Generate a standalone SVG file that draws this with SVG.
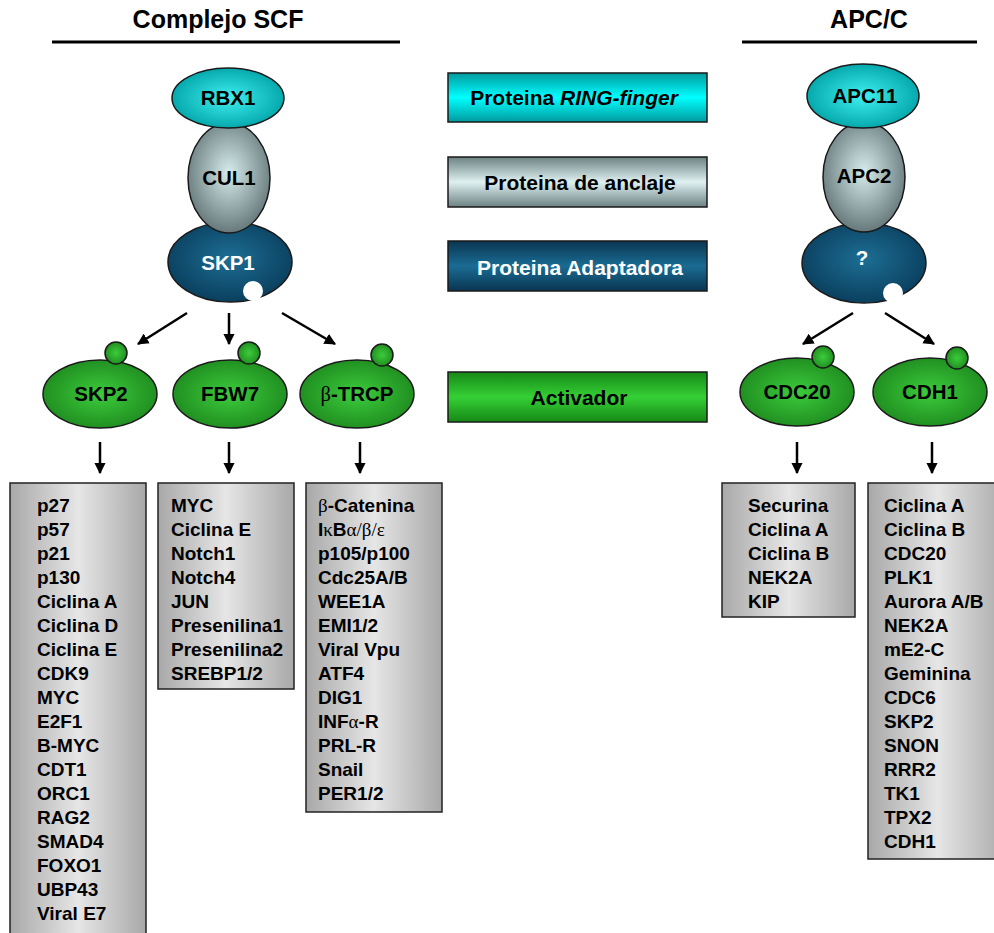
<svg xmlns="http://www.w3.org/2000/svg" width="994" height="933" viewBox="0 0 994 933">
<defs>
<radialGradient id="gCyan" cx="50%" cy="50%" r="55%"><stop offset="0" stop-color="#3ff0f0"/><stop offset="1" stop-color="#00a2a6"/></radialGradient>
<radialGradient id="gGray" cx="50%" cy="45%" r="55%"><stop offset="0" stop-color="#d6ecec"/><stop offset="1" stop-color="#67797b"/></radialGradient>
<radialGradient id="gBlue" cx="50%" cy="45%" r="55%"><stop offset="0" stop-color="#1d6e94"/><stop offset="1" stop-color="#0a3f5e"/></radialGradient>
<radialGradient id="gGreen" cx="50%" cy="50%" r="55%"><stop offset="0" stop-color="#3ccc3c"/><stop offset="1" stop-color="#1e8a1e"/></radialGradient>
<linearGradient id="lCyan" x1="0" y1="0" x2="0" y2="1"><stop offset="0" stop-color="#009a9e"/><stop offset="0.5" stop-color="#00ffff"/><stop offset="1" stop-color="#009a9e"/></linearGradient>
<linearGradient id="lGray" x1="0" y1="0" x2="0" y2="1"><stop offset="0" stop-color="#6c8283"/><stop offset="0.5" stop-color="#dff0f0"/><stop offset="1" stop-color="#6c8283"/></linearGradient>
<linearGradient id="lBlue" x1="0" y1="0" x2="0" y2="1"><stop offset="0" stop-color="#0a3550"/><stop offset="0.5" stop-color="#1a6c94"/><stop offset="1" stop-color="#0a3550"/></linearGradient>
<linearGradient id="lGreen" x1="0" y1="0" x2="0" y2="1"><stop offset="0" stop-color="#168816"/><stop offset="0.5" stop-color="#35d035"/><stop offset="1" stop-color="#168816"/></linearGradient>
<linearGradient id="lBox" x1="0" y1="0" x2="1" y2="0"><stop offset="0" stop-color="#a8a8a8"/><stop offset="0.5" stop-color="#e6e6e6"/><stop offset="1" stop-color="#a8a8a8"/></linearGradient>
<marker id="ah" viewBox="0 0 10 10" refX="9" refY="5" markerWidth="4.6" markerHeight="4.6" orient="auto" markerUnits="strokeWidth"><path d="M0,0 L10,5 L0,10 Z" fill="#000"/></marker>
</defs>
<style>
text{font-family:"Liberation Sans",Arial,sans-serif;font-weight:bold;fill:#000}
.t{font-size:25px}
.lab{font-size:20.5px;text-anchor:middle}
.leg{font-size:21px;text-anchor:middle}
.lst{font-size:19px}
.g{font-family:"Liberation Serif","Times New Roman",serif;font-weight:normal}
.ol{stroke:#1a1a1a;stroke-width:1.5}
.bx{fill:url(#lBox);stroke:#222;stroke-width:1.5}
.con{stroke:#000;stroke-width:2.5;fill:none;marker-end:url(#ah)}
.rule{stroke:#000;stroke-width:3}
</style>
<rect width="994" height="933" fill="#fff"/>

<g id="titles">
<text class="t" x="218" y="28" text-anchor="middle">Complejo SCF</text>
<line class="rule" x1="52" y1="42" x2="400" y2="42"/>
<text class="t" x="869" y="28" text-anchor="middle">APC/C</text>
<line class="rule" x1="742" y1="42" x2="977" y2="42"/>
</g>

<g id="SKP1"><ellipse class="ol" cx="230" cy="262" rx="62" ry="40" fill="url(#gBlue)"/><circle cx="253" cy="291" r="10" fill="#fff"/><text class="lab" x="228" y="270" style="fill:#fff">SKP1</text></g>
<g id="CUL1"><ellipse class="ol" cx="229" cy="178" rx="41" ry="55" fill="url(#gGray)"/><text class="lab" x="229" y="185">CUL1</text></g>
<g id="RBX1"><ellipse class="ol" cx="228" cy="98" rx="56" ry="30" fill="url(#gCyan)"/><text class="lab" x="228" y="105">RBX1</text></g>

<g id="APCQ"><ellipse class="ol" cx="864" cy="263" rx="62" ry="40" fill="url(#gBlue)"/><circle cx="893" cy="293" r="10" fill="#fff"/><text class="lab" x="862" y="265" style="fill:#fff">?</text></g>
<g id="APC2"><ellipse class="ol" cx="864" cy="177" rx="41" ry="55" fill="url(#gGray)"/><text class="lab" x="864" y="183">APC2</text></g>
<g id="APC11"><ellipse class="ol" cx="863" cy="96" rx="56" ry="32" fill="url(#gCyan)"/><text class="lab" x="865" y="103">APC11</text></g>

<g id="leg-ring"><rect class="ol" x="448" y="73" width="259" height="49" fill="url(#lCyan)"/><text class="leg" x="574" y="105">Proteina <tspan font-style="italic">RING-finger</tspan></text></g>
<g id="leg-anclaje"><rect class="ol" x="448" y="157" width="259" height="50" fill="url(#lGray)"/><text class="leg" x="580" y="190">Proteina de anclaje</text></g>
<g id="leg-adapt"><rect class="ol" x="448" y="241" width="259" height="50" fill="url(#lBlue)"/><text class="leg" x="580" y="275" style="fill:#fff">Proteina Adaptadora</text></g>
<g id="leg-activ"><rect class="ol" x="448" y="372" width="259" height="50" fill="url(#lGreen)"/><text class="leg" x="579" y="405">Activador</text></g>

<g id="SKP2"><ellipse class="ol" cx="100" cy="394" rx="57" ry="34" fill="url(#gGreen)"/><circle class="ol" cx="116" cy="353" r="11" fill="url(#gGreen)"/><text class="lab" x="101" y="401">SKP2</text></g>
<g id="FBW7"><ellipse class="ol" cx="230" cy="394" rx="57" ry="34" fill="url(#gGreen)"/><circle class="ol" cx="249" cy="353" r="11" fill="url(#gGreen)"/><text class="lab" x="230" y="401">FBW7</text></g>
<g id="BTRCP"><ellipse class="ol" cx="357" cy="394" rx="57" ry="34" fill="url(#gGreen)"/><circle class="ol" cx="382" cy="355" r="11" fill="url(#gGreen)"/><text class="lab" x="357" y="401"><tspan class="g">β</tspan>-TRCP</text></g>
<g id="CDC20"><ellipse class="ol" cx="797" cy="392" rx="57" ry="34" fill="url(#gGreen)"/><circle class="ol" cx="823" cy="357" r="11" fill="url(#gGreen)"/><text class="lab" x="797" y="399">CDC20</text></g>
<g id="CDH1"><ellipse class="ol" cx="930" cy="392" rx="57" ry="34" fill="url(#gGreen)"/><circle class="ol" cx="957" cy="358" r="11" fill="url(#gGreen)"/><text class="lab" x="930" y="399">CDH1</text></g>

<g id="connectors">
<line class="con" x1="187" y1="313" x2="138" y2="344"/>
<line class="con" x1="229" y1="313" x2="229" y2="344"/>
<line class="con" x1="282" y1="313" x2="335" y2="344"/>
<line class="con" x1="853" y1="313" x2="803" y2="344"/>
<line class="con" x1="885" y1="313" x2="934" y2="344"/>
<line class="con" x1="100" y1="442" x2="100" y2="473"/>
<line class="con" x1="229" y1="442" x2="229" y2="473"/>
<line class="con" x1="360" y1="442" x2="360" y2="473"/>
<line class="con" x1="797" y1="442" x2="797" y2="473"/>
<line class="con" x1="932" y1="442" x2="932" y2="473"/>
</g>

<g id="list-skp2"><rect class="bx" x="10" y="483" width="136" height="460"/>
<text class="lst" x="37" y="512">p27</text><text class="lst" x="37" y="536">p57</text><text class="lst" x="37" y="560">p21</text><text class="lst" x="37" y="584">p130</text><text class="lst" x="37" y="608">Ciclina A</text><text class="lst" x="37" y="632">Ciclina D</text><text class="lst" x="37" y="656">Ciclina E</text><text class="lst" x="37" y="680">CDK9</text><text class="lst" x="37" y="704">MYC</text><text class="lst" x="37" y="728">E2F1</text><text class="lst" x="37" y="752">B-MYC</text><text class="lst" x="37" y="776">CDT1</text><text class="lst" x="37" y="800">ORC1</text><text class="lst" x="37" y="824">RAG2</text><text class="lst" x="37" y="848">SMAD4</text><text class="lst" x="37" y="872">FOXO1</text><text class="lst" x="37" y="896">UBP43</text><text class="lst" x="37" y="920">Viral E7</text>
</g>
<g id="list-fbw7"><rect class="bx" x="158" y="483" width="136" height="206"/>
<text class="lst" x="171" y="512">MYC</text><text class="lst" x="171" y="536">Ciclina E</text><text class="lst" x="171" y="560">Notch1</text><text class="lst" x="171" y="584">Notch4</text><text class="lst" x="171" y="608">JUN</text><text class="lst" x="171" y="632">Presenilina1</text><text class="lst" x="171" y="656">Presenilina2</text><text class="lst" x="171" y="680">SREBP1/2</text>
</g>
<g id="list-btrcp"><rect class="bx" x="306" y="483" width="136" height="329"/>
<text class="lst" x="318" y="512"><tspan class="g">β</tspan>-Catenina</text><text class="lst" x="318" y="536">I<tspan class="g">κ</tspan>B<tspan class="g">α/β/ε</tspan></text><text class="lst" x="318" y="560">p105/p100</text><text class="lst" x="318" y="584">Cdc25A/B</text><text class="lst" x="318" y="608">WEE1A</text><text class="lst" x="318" y="632">EMI1/2</text><text class="lst" x="318" y="656">Viral Vpu</text><text class="lst" x="318" y="680">ATF4</text><text class="lst" x="318" y="704">DIG1</text><text class="lst" x="318" y="728">INF<tspan class="g">α</tspan>-R</text><text class="lst" x="318" y="752">PRL-R</text><text class="lst" x="318" y="776">Snail</text><text class="lst" x="318" y="800">PER1/2</text>
</g>
<g id="list-cdc20"><rect class="bx" x="722" y="483" width="133" height="134"/>
<text class="lst" x="748" y="512">Securina</text><text class="lst" x="748" y="536">Ciclina A</text><text class="lst" x="748" y="560">Ciclina B</text><text class="lst" x="748" y="584">NEK2A</text><text class="lst" x="748" y="608">KIP</text>
</g>
<g id="list-cdh1"><rect class="bx" x="868" y="483" width="140" height="376"/>
<text class="lst" x="884" y="512">Ciclina A</text><text class="lst" x="884" y="536">Ciclina B</text><text class="lst" x="884" y="560">CDC20</text><text class="lst" x="884" y="584">PLK1</text><text class="lst" x="884" y="608">Aurora A/B</text><text class="lst" x="884" y="632">NEK2A</text><text class="lst" x="884" y="656">mE2-C</text><text class="lst" x="884" y="680">Geminina</text><text class="lst" x="884" y="704">CDC6</text><text class="lst" x="884" y="728">SKP2</text><text class="lst" x="884" y="752">SNON</text><text class="lst" x="884" y="776">RRR2</text><text class="lst" x="884" y="800">TK1</text><text class="lst" x="884" y="824">TPX2</text><text class="lst" x="884" y="848">CDH1</text>
</g>
</svg>
